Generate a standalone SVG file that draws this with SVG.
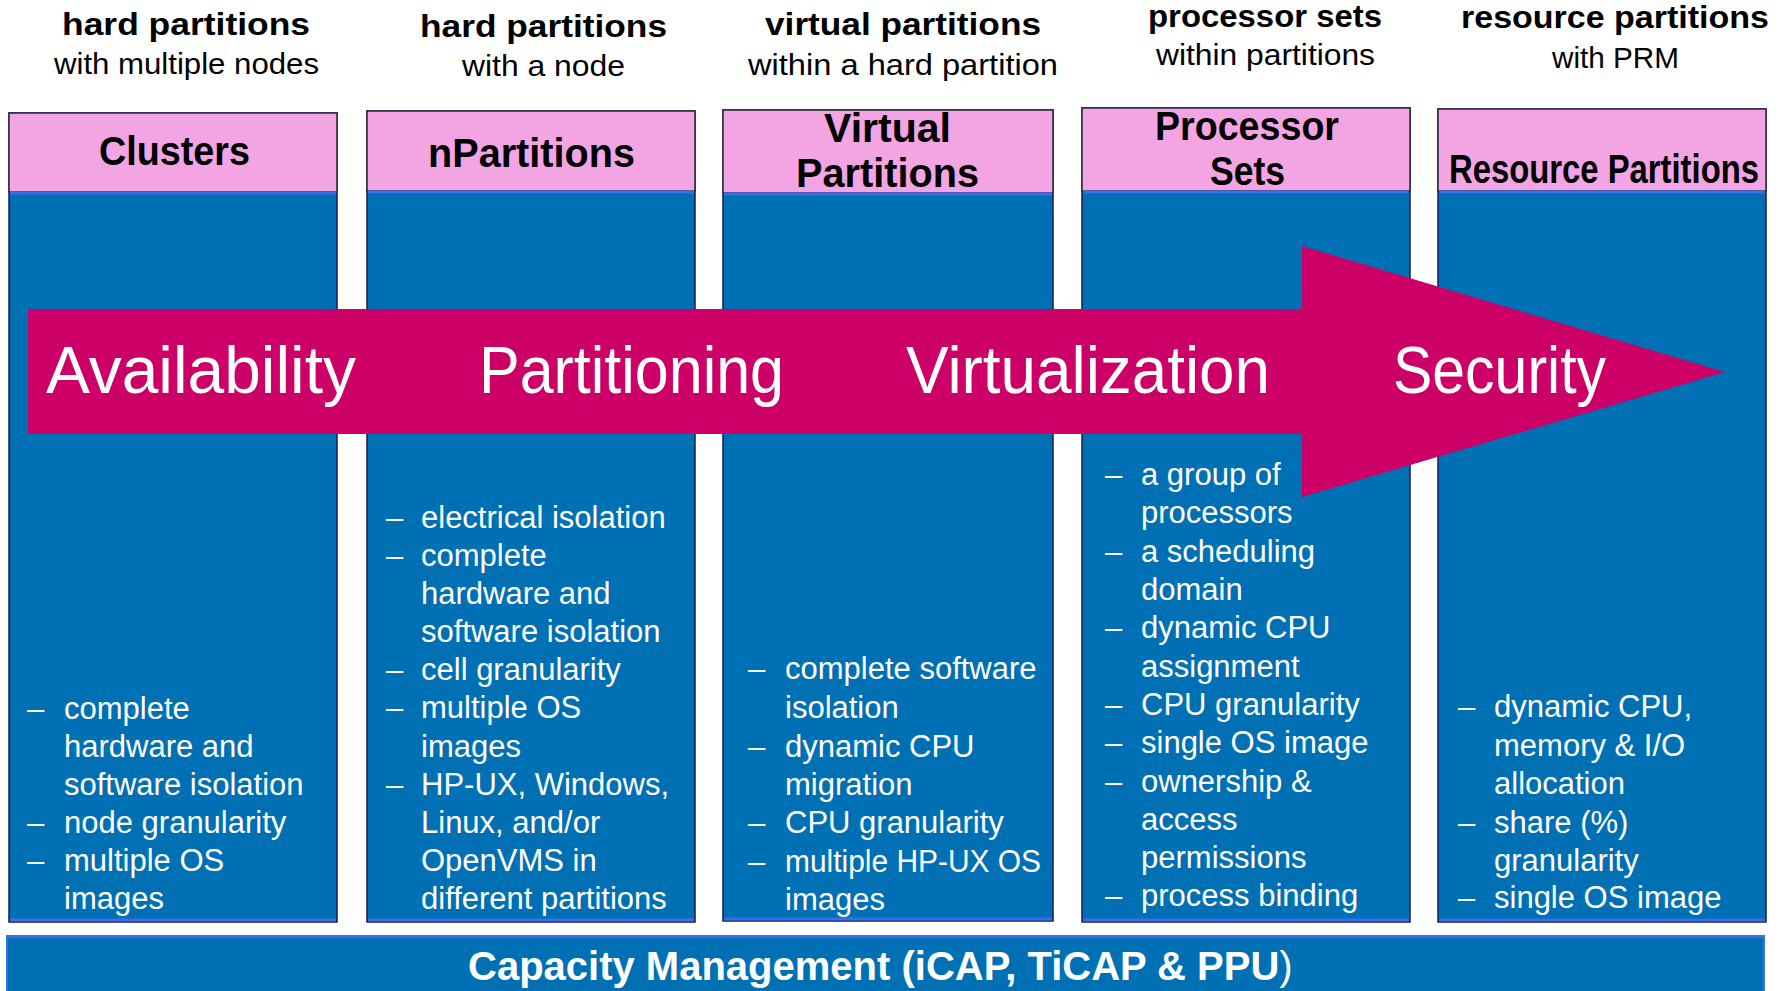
<svg xmlns="http://www.w3.org/2000/svg" width="1780" height="991" viewBox="0 0 1780 991">
<style>
.hb{font-family:"Liberation Sans",Arial,sans-serif;font-weight:bold;font-size:31px;fill:#000}
.hs{font-family:"Liberation Sans",Arial,sans-serif;font-size:30px;fill:#000}
.ph{font-family:"Liberation Sans",Arial,sans-serif;font-weight:bold;font-size:41px;fill:#000}
.b{font-family:"Liberation Sans",Arial,sans-serif;font-size:31px;fill:#fff}
.at{font-family:"Liberation Sans",Arial,sans-serif;font-size:66px;fill:#fff}
.cm{font-family:"Liberation Sans",Arial,sans-serif;font-weight:bold;font-size:40px;fill:#fff}
.pink{fill:#F2A4E3;stroke:#2a2a3a;stroke-width:1.5}
.blue{fill:#0070B5;stroke:#1a1a50;stroke-width:1.5}
.edge{stroke:#3A6EEA;stroke-width:3;fill:none}
</style>
<rect width="1780" height="991" fill="#fff"/>

<g id="col-clusters">
<text class="hb" x="62" y="35" textLength="248" lengthAdjust="spacingAndGlyphs">hard partitions</text>
<text class="hs" x="54" y="74" textLength="265" lengthAdjust="spacingAndGlyphs">with multiple nodes</text>
<rect class="blue" x="9" y="113" width="328" height="809"/>
<rect class="pink" x="9" y="113" width="328" height="79"/>
<line class="edge" x1="10" y1="193" x2="336" y2="193"/>
<line class="edge" x1="10" y1="920" x2="336" y2="920"/>
<text class="ph" x="99" y="165" textLength="151" lengthAdjust="spacingAndGlyphs">Clusters</text>
<text class="b" x="27" y="719">–</text><text class="b" x="64" y="719">complete</text>
<text class="b" x="64" y="757">hardware and</text>
<text class="b" x="64" y="795">software isolation</text>
<text class="b" x="27" y="833">–</text><text class="b" x="64" y="833">node granularity</text>
<text class="b" x="27" y="871">–</text><text class="b" x="64" y="871">multiple OS</text>
<text class="b" x="64" y="909">images</text>
</g>

<g id="col-npartitions">
<text class="hb" x="420" y="37" textLength="247" lengthAdjust="spacingAndGlyphs">hard partitions</text>
<text class="hs" x="462" y="76" textLength="163" lengthAdjust="spacingAndGlyphs">with a node</text>
<rect class="blue" x="367" y="111" width="328" height="811"/>
<rect class="pink" x="367" y="111" width="328" height="80"/>
<line class="edge" x1="368" y1="192" x2="694" y2="192"/>
<line class="edge" x1="368" y1="920" x2="694" y2="920"/>
<text class="ph" x="428" y="167" textLength="207" lengthAdjust="spacingAndGlyphs">nPartitions</text>
<text class="b" x="386" y="528">–</text><text class="b" x="421" y="528">electrical isolation</text>
<text class="b" x="386" y="566">–</text><text class="b" x="421" y="566">complete</text>
<text class="b" x="421" y="604">hardware and</text>
<text class="b" x="421" y="642">software isolation</text>
<text class="b" x="386" y="680">–</text><text class="b" x="421" y="680">cell granularity</text>
<text class="b" x="386" y="718">–</text><text class="b" x="421" y="718">multiple OS</text>
<text class="b" x="421" y="757">images</text>
<text class="b" x="386" y="795">–</text><text class="b" x="421" y="795">HP-UX, Windows,</text>
<text class="b" x="421" y="833">Linux, and/or</text>
<text class="b" x="421" y="871">OpenVMS in</text>
<text class="b" x="421" y="909">different partitions</text>
</g>

<g id="col-vpars">
<text class="hb" x="765" y="35" textLength="276" lengthAdjust="spacingAndGlyphs">virtual partitions</text>
<text class="hs" x="748" y="75" textLength="310" lengthAdjust="spacingAndGlyphs">within a hard partition</text>
<rect class="blue" x="723" y="110" width="330" height="811"/>
<rect class="pink" x="723" y="110" width="330" height="83"/>
<line class="edge" x1="724" y1="194" x2="1052" y2="194"/>
<line class="edge" x1="724" y1="919" x2="1052" y2="919"/>
<text class="ph" x="824" y="142" textLength="127" lengthAdjust="spacingAndGlyphs">Virtual</text>
<text class="ph" x="796" y="187" textLength="183" lengthAdjust="spacingAndGlyphs">Partitions</text>
<text class="b" x="748" y="679">–</text><text class="b" x="785" y="679">complete software</text>
<text class="b" x="785" y="718">isolation</text>
<text class="b" x="748" y="757">–</text><text class="b" x="785" y="757">dynamic CPU</text>
<text class="b" x="785" y="795">migration</text>
<text class="b" x="748" y="833">–</text><text class="b" x="785" y="833">CPU granularity</text>
<text class="b" x="748" y="872">–</text><text class="b" x="785" y="872" textLength="256" lengthAdjust="spacingAndGlyphs">multiple HP-UX OS</text>
<text class="b" x="785" y="910">images</text>
</g>

<g id="col-psets">
<text class="hb" x="1148" y="27" textLength="234" lengthAdjust="spacingAndGlyphs">processor sets</text>
<text class="hs" x="1156" y="65" textLength="219" lengthAdjust="spacingAndGlyphs">within partitions</text>
<rect class="blue" x="1082" y="108" width="328" height="814"/>
<rect class="pink" x="1082" y="108" width="328" height="83"/>
<line class="edge" x1="1083" y1="192" x2="1409" y2="192"/>
<line class="edge" x1="1083" y1="920" x2="1409" y2="920"/>
<text class="ph" x="1155" y="140" textLength="184" lengthAdjust="spacingAndGlyphs">Processor</text>
<text class="ph" x="1210" y="185" textLength="75" lengthAdjust="spacingAndGlyphs">Sets</text>
<text class="b" x="1105" y="485">–</text><text class="b" x="1141" y="485">a group of</text>
<text class="b" x="1141" y="523">processors</text>
<text class="b" x="1105" y="562">–</text><text class="b" x="1141" y="562">a scheduling</text>
<text class="b" x="1141" y="600">domain</text>
<text class="b" x="1105" y="638">–</text><text class="b" x="1141" y="638">dynamic CPU</text>
<text class="b" x="1141" y="677">assignment</text>
<text class="b" x="1105" y="715">–</text><text class="b" x="1141" y="715">CPU granularity</text>
<text class="b" x="1105" y="753">–</text><text class="b" x="1141" y="753">single OS image</text>
<text class="b" x="1105" y="792">–</text><text class="b" x="1141" y="792">ownership &amp;</text>
<text class="b" x="1141" y="830">access</text>
<text class="b" x="1141" y="868">permissions</text>
<text class="b" x="1105" y="906">–</text><text class="b" x="1141" y="906">process binding</text>
</g>

<g id="col-rpars">
<text class="hb" x="1461" y="28" textLength="308" lengthAdjust="spacingAndGlyphs">resource partitions</text>
<text class="hs" x="1552" y="68" textLength="127" lengthAdjust="spacingAndGlyphs">with PRM</text>
<rect class="blue" x="1438" y="109" width="328" height="813"/>
<rect class="pink" x="1438" y="109" width="328" height="82"/>
<line class="edge" x1="1439" y1="192" x2="1765" y2="192"/>
<line class="edge" x1="1439" y1="920" x2="1765" y2="920"/>
<text class="ph" x="1449" y="183" font-size="33" textLength="310" lengthAdjust="spacingAndGlyphs">Resource Partitions</text>
<text class="b" x="1458" y="717">–</text><text class="b" x="1494" y="717">dynamic CPU,</text>
<text class="b" x="1494" y="756">memory &amp; I/O</text>
<text class="b" x="1494" y="794">allocation</text>
<text class="b" x="1458" y="833">–</text><text class="b" x="1494" y="833">share (%)</text>
<text class="b" x="1494" y="871">granularity</text>
<text class="b" x="1458" y="908">–</text><text class="b" x="1494" y="908">single OS image</text>
</g>

<g id="arrow-banner">
<polygon points="28,309 1302,309 1302,246 1725,372 1302,497 1302,434 28,434" fill="#CC0066"/>
<text class="at" x="46" y="393" textLength="310" lengthAdjust="spacingAndGlyphs">Availability</text>
<text class="at" x="479" y="393" textLength="305" lengthAdjust="spacingAndGlyphs">Partitioning</text>
<text class="at" x="906" y="393" textLength="364" lengthAdjust="spacingAndGlyphs">Virtualization</text>
<text class="at" x="1393" y="393" textLength="213" lengthAdjust="spacingAndGlyphs">Security</text>
</g>

<g id="capacity-management">
<rect x="6" y="935" width="1759" height="60" fill="#0070B5"/>
<line x1="6" y1="936.5" x2="1765" y2="936.5" stroke="#3A6EEA" stroke-width="3"/>
<line x1="7" y1="936" x2="7" y2="991" stroke="#3A6EEA" stroke-width="2"/>
<line x1="1764" y1="936" x2="1764" y2="991" stroke="#3A6EEA" stroke-width="2"/>
<text class="cm" x="468" y="980">Capacity Management (iCAP, TiCAP &amp; PPU<tspan font-weight="normal">)</tspan></text>
</g>
</svg>
